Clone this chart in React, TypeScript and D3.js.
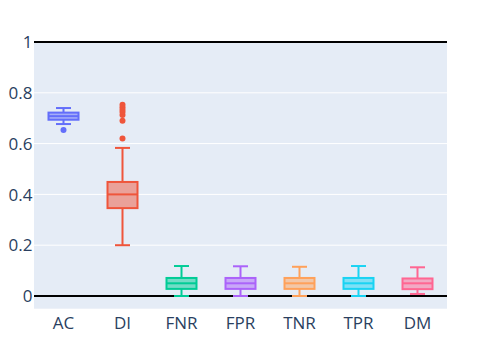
import React from "react";
import * as d3 from "d3";

// chart data
const categories = ["AC", "DI", "FNR", "FPR", "TNR", "TPR", "DM"];
const colors = ["#636efa", "#EF553B", "#00cc96", "#ab63fa", "#FFA15A", "#19d3f3", "#FF6692"];
const lowerFence = [0.677, 0.2, 0.0, 0.0, 0.0, 0.0, 0.008];
const q1 = [0.694, 0.346, 0.028, 0.028, 0.028, 0.028, 0.027];
const median = [0.708, 0.4, 0.05, 0.05, 0.05, 0.05, 0.05];
const q3 = [0.722, 0.449, 0.071, 0.071, 0.071, 0.071, 0.069];
const upperFence = [0.74, 0.583, 0.118, 0.117, 0.115, 0.118, 0.113];
const outliers = [[0.654], [0.62, 0.69, 0.713, 0.724, 0.733, 0.743, 0.753], [], [], [], [], []];
const yTicks = [0, 0.2, 0.4, 0.6, 0.8, 1];

const W = 482;
const H = 344;
const margin = { left: 34, right: 35, top: 42, bottom: 35 };

const App = () => {
  const x = d3
    .scaleBand()
    .domain(categories)
    .range([margin.left, W - margin.right]);
  const y = d3.scaleLinear().domain([0, 1]).range([296, 42]);
  const yBottom = y(-0.05);

  const boxW = 30;
  const capW = 15;
  const font = "'Open Sans', sans-serif";
  const fmt = (v) => (v === 0 || v === 1 ? String(v) : d3.format(".1f")(v));

  return (
    <svg
      width={W}
      height={H}
      style={{ position: "absolute", left: 0, top: 0, background: "#fff" }}
    >
      <rect
        x={margin.left}
        y={margin.top}
        width={W - margin.right - margin.left}
        height={yBottom - margin.top}
        fill="#E5ECF6"
      />
      {yTicks.map((t) => (
        <g key={t}>
          {t !== 0 && t !== 1 && (
            <line
              x1={margin.left}
              x2={W - margin.right}
              y1={y(t)}
              y2={y(t)}
              stroke="#fff"
              strokeWidth={1}
            />
          )}
          <text
            x={32.5}
            y={y(t)}
            dy="0.36em"
            textAnchor="end"
            fontFamily={font}
            fontSize={17}
            fill="#2a3f5f"
          >
            {fmt(t)}
          </text>
        </g>
      ))}
      {/* black lines at 0 and 1 */}
      {[0, 1].map((t) => (
        <line
          key={"b" + t}
          x1={margin.left}
          x2={W - margin.right}
          y1={y(t)}
          y2={y(t)}
          stroke="#000"
          strokeWidth={2}
        />
      ))}
      {categories.map((c, i) => {
        const cx = x(c) + x.bandwidth() / 2;
        const col = colors[i];
        return (
          <g key={c}>
            <line x1={cx} x2={cx} y1={y(upperFence[i])} y2={y(q3[i])} stroke={col} strokeWidth={2} />
            <line x1={cx} x2={cx} y1={y(q1[i])} y2={y(lowerFence[i])} stroke={col} strokeWidth={2} />
            <line
              x1={cx - capW / 2}
              x2={cx + capW / 2}
              y1={y(upperFence[i])}
              y2={y(upperFence[i])}
              stroke={col}
              strokeWidth={2}
            />
            <line
              x1={cx - capW / 2}
              x2={cx + capW / 2}
              y1={y(lowerFence[i])}
              y2={y(lowerFence[i])}
              stroke={col}
              strokeWidth={2}
            />
            <rect
              x={cx - boxW / 2}
              y={y(q3[i])}
              width={boxW}
              height={y(q1[i]) - y(q3[i])}
              fill={col}
              fillOpacity={0.5}
              stroke={col}
              strokeWidth={2}
            />
            <line
              x1={cx - boxW / 2}
              x2={cx + boxW / 2}
              y1={y(median[i])}
              y2={y(median[i])}
              stroke={col}
              strokeWidth={2}
            />
            {outliers[i].map((o, j) => (
              <circle key={j} cx={cx} cy={y(o)} r={3} fill={col} />
            ))}
            <text
              x={cx}
              y={328.5}
              textAnchor="middle"
              fontFamily={font}
              fontSize={17}
              fill="#2a3f5f"
            >
              {c}
            </text>
          </g>
        );
      })}
    </svg>
  );
};

export default App;
